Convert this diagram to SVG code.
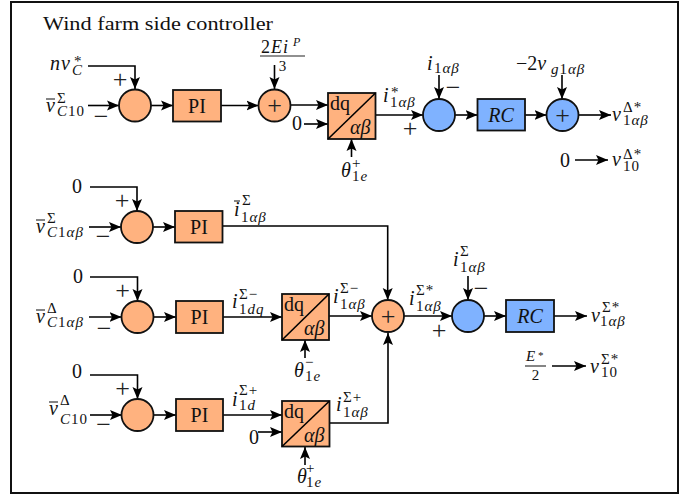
<svg xmlns="http://www.w3.org/2000/svg" width="694" height="495" viewBox="0 0 694 495">
<style>
text{font-family:"Liberation Serif","Times New Roman",serif;fill:#111;font-size:20px}
.i{font-style:italic}
.n{font-style:normal}
.s{font-size:15px;letter-spacing:1px}
.si{font-size:15px;font-style:italic;letter-spacing:1px}
.c{text-anchor:middle}
.sg{font-size:26px;text-anchor:middle;fill:#222}
.o{fill:#ffb27f;stroke:#111;stroke-width:1.8}
.b{fill:#7fb2ff;stroke:#111;stroke-width:1.8}
.a{fill:none;stroke:#000;stroke-width:1.6;marker-end:url(#ah)}
.d{stroke:#000;stroke-width:1.6}
.bar{stroke:#222;stroke-width:1.1}
</style>
<defs>
<marker id="ah" markerUnits="userSpaceOnUse" markerWidth="14" markerHeight="12" refX="12" refY="6" orient="auto">
<path d="M0 1 L12 6 L0 11 L2.500 6 Z" fill="#000"/>
</marker>
</defs>
<rect x="11" y="2" width="667" height="491" fill="#fff" stroke="#111" stroke-width="2"/>
<text x="43" y="30" textLength="230" lengthAdjust="spacingAndGlyphs" style="font-size:19px">Wind farm side controller</text>
<g id="connectors">
<path class="a" d="M88 66H135V89"/>
<path class="a" d="M88 105.500H119"/>
<path class="a" d="M151 105.500H173"/>
<path class="a" d="M221 105.500H258.500"/>
<path class="a" d="M291 105H328"/>
<path class="a" d="M304 124H328"/>
<path class="a" d="M274.500 65V89"/>
<path class="a" d="M351.500 157V139"/>
<path class="a" d="M375.500 115H423"/>
<path class="a" d="M439 75V99"/>
<path class="a" d="M455 115H477.500"/>
<path class="a" d="M525 115H546.500"/>
<path class="a" d="M562 75V99"/>
<path class="a" d="M579 115H611"/>
<path class="a" d="M575 160H608"/>
<path class="a" d="M90 187H137V211"/>
<path class="a" d="M89 227H121"/>
<path class="a" d="M153 227H175"/>
<path class="a" d="M222.500 226H387.700V300"/>
<path class="a" d="M90 277H137.500V301"/>
<path class="a" d="M89 317H121.500"/>
<path class="a" d="M154 317H176"/>
<path class="a" d="M223 317H282"/>
<path class="a" d="M329 316H372"/>
<path class="a" d="M305 358V340"/>
<path class="a" d="M404 316H452"/>
<path class="a" d="M468 276V300"/>
<path class="a" d="M484 316H506"/>
<path class="a" d="M554 316H587"/>
<path class="a" d="M552 366H586"/>
<path class="a" d="M90 375H137.500V399"/>
<path class="a" d="M90 415H122"/>
<path class="a" d="M154 415H176"/>
<path class="a" d="M223 415H282"/>
<path class="a" d="M258 432H282"/>
<path class="a" d="M329.500 423H388V333"/>
<path class="a" d="M305 465V447"/>
</g>
<g id="sum1"><circle class="o" cx="135" cy="105.500" r="16"/></g>
<g id="pi1"><rect class="o" x="173" y="90" width="48" height="31.500"/><text class="c" x="197" y="112.500">PI</text></g>
<g id="add1"><circle class="o" cx="274.500" cy="105.500" r="16"/><text class="sg" x="274.500" y="114">+</text></g>
<g id="dq1"><rect class="o" x="328" y="93" width="47.500" height="46"/><path class="d" d="M328 139L375.500 93"/><text x="330" y="110">dq</text><text class="i" x="350" y="134">αβ</text></g>
<g id="sum2"><circle class="b" cx="439" cy="115" r="16"/></g>
<g id="rc1"><rect class="b" x="477.500" y="99" width="47.500" height="31.500"/><text class="c i" x="501" y="122">RC</text></g>
<g id="add2"><circle class="b" cx="562.500" cy="115" r="16"/><text class="sg" x="562.500" y="123.500">+</text></g>
<g id="sum3"><circle class="o" cx="137" cy="227" r="16"/></g>
<g id="pi2"><rect class="o" x="175" y="211" width="47.500" height="31.500"/><text class="c" x="199" y="233.500">PI</text></g>
<g id="sum4"><circle class="o" cx="137.500" cy="317" r="16"/></g>
<g id="pi3"><rect class="o" x="176" y="301" width="47" height="32"/><text class="c" x="199.500" y="323.500">PI</text></g>
<g id="dq2"><rect class="o" x="282" y="294" width="47" height="46"/><path class="d" d="M282 340L329 294"/><text x="284" y="311">dq</text><text class="i" x="304" y="335">αβ</text></g>
<g id="add3"><circle class="o" cx="388" cy="316" r="16"/><text class="sg" x="388" y="324.500">+</text></g>
<g id="sum5"><circle class="b" cx="468" cy="316" r="16"/></g>
<g id="rc2"><rect class="b" x="506" y="300" width="48" height="32"/><text class="c i" x="530" y="323">RC</text></g>
<g id="sum6"><circle class="o" cx="137.500" cy="415" r="16"/></g>
<g id="pi4"><rect class="o" x="176" y="399" width="47" height="32"/><text class="c" x="199.500" y="421.500">PI</text></g>
<g id="dq3"><rect class="o" x="282" y="401" width="47.500" height="45.500"/><path class="d" d="M282 446.500L329.500 401"/><text x="284" y="418">dq</text><text class="i" x="304" y="442">αβ</text></g>
<g id="signs">
<text class="sg" x="120" y="88">+</text><text class="sg" x="101" y="125">−</text>
<text class="sg" x="410" y="136.500">+</text><text class="sg" x="453" y="95.500">−</text>
<text class="sg" x="122" y="208.500">+</text><text class="sg" x="103" y="245">−</text>
<text class="sg" x="122.500" y="298.500">+</text><text class="sg" x="104" y="337">−</text>
<text class="sg" x="122.500" y="396.500">+</text><text class="sg" x="103.500" y="433">−</text>
<text class="sg" x="439" y="338.500">+</text><text class="sg" x="481" y="297">−</text>
</g>
<g id="labels">
<text class="i" x="50" y="70" style="letter-spacing:1px">nv</text><text class="s" x="74" y="66">*</text><text class="si" x="72" y="75">C</text>
<line class="bar" x1="46" y1="99" x2="55" y2="99"/><text class="i" x="46" y="112">v</text><text class="s" x="57" y="103">Σ</text><text class="si" x="57" y="116">C<tspan class="n">10</tspan></text>
<text x="261" y="53" style="font-size:18px;letter-spacing:1px">2<tspan class="i">Ei</tspan></text><text class="si" x="293" y="46" style="font-size:12px">P</text>
<line class="bar" x1="260" y1="56" x2="305" y2="56"/><text x="282.500" y="71" class="c" style="font-size:15px">3</text>
<text x="292" y="130">0</text>
<text class="i" x="341" y="177">θ</text><text class="s" x="352" y="168">+</text><text class="si" x="352" y="181"><tspan class="n">1</tspan>e</text>
<text class="i" x="383" y="102">i</text><text class="s" x="391" y="97">*</text><text class="s" x="390" y="107">1<tspan class="i">αβ</tspan></text>
<text class="i" x="427" y="70">i</text><text class="s" x="434" y="73">1<tspan class="i">αβ</tspan></text>
<text x="516" y="70">−2<tspan class="i">v</tspan></text><text class="si" x="551" y="74">g<tspan class="n">1</tspan>αβ</text>
<text class="i" x="612" y="121">v</text><text class="s" x="623" y="112">Δ*</text><text class="s" x="623" y="125">1<tspan class="i">αβ</tspan></text>
<text x="560" y="167">0</text>
<text class="i" x="612" y="166">v</text><text class="s" x="623" y="159">Δ*</text><text class="s" x="623" y="171">10</text>
<text x="72" y="193">0</text>
<line class="bar" x1="36" y1="220" x2="45" y2="220"/><text class="i" x="36" y="233">v</text><text class="s" x="47" y="223">Σ</text><text class="si" x="47" y="237">C<tspan class="n">1</tspan>αβ</text>
<line class="bar" x1="234" y1="201" x2="240" y2="201"/><text class="i" x="234" y="216">i</text><text class="s" x="242" y="205">Σ</text><text class="s" x="241" y="222">1<tspan class="i">αβ</tspan></text>
<text x="73" y="283">0</text>
<line class="bar" x1="36" y1="310" x2="45" y2="310"/><text class="i" x="36" y="323">v</text><text class="s" x="47" y="313">Δ</text><text class="si" x="47" y="327">C<tspan class="n">1</tspan>αβ</text>
<text class="i" x="232" y="308">i</text><text class="s" x="239" y="299">Σ−</text><text class="si" x="239" y="314"><tspan class="n">1</tspan>dq</text>
<text class="i" x="333" y="303">i</text><text class="s" x="340" y="293">Σ−</text><text class="s" x="340" y="309">1<tspan class="i">αβ</tspan></text>
<text class="i" x="294" y="377">θ</text><text class="s" x="305" y="367">−</text><text class="si" x="305" y="381"><tspan class="n">1</tspan>e</text>
<text class="i" x="409" y="305">i</text><text class="s" x="416" y="295">Σ*</text><text class="s" x="416" y="311">1<tspan class="i">αβ</tspan></text>
<text class="i" x="453" y="266">i</text><text class="s" x="460" y="256">Σ</text><text class="s" x="460" y="272">1<tspan class="i">αβ</tspan></text>
<text class="i" x="591" y="322">v</text><text class="s" x="602" y="312">Σ*</text><text class="s" x="600" y="326">1<tspan class="i">αβ</tspan></text>
<text class="i" x="526" y="361" style="font-size:15px">E</text><text x="538" y="359" style="font-size:11px">*</text>
<line class="bar" x1="525" y1="366" x2="546" y2="366"/><text class="c" x="535.500" y="380" style="font-size:15px">2</text>
<text class="i" x="590" y="373">v</text><text class="s" x="601" y="364">Σ*</text><text class="s" x="601" y="377">10</text>
<text x="72" y="378">0</text>
<line class="bar" x1="49" y1="402" x2="58" y2="402"/><text class="i" x="49" y="415">v</text><text class="s" x="60" y="405">Δ</text><text class="si" x="60" y="424">C<tspan class="n">10</tspan></text>
<text class="i" x="232" y="406">i</text><text class="s" x="239" y="395">Σ+</text><text class="si" x="239" y="410"><tspan class="n">1</tspan>d</text>
<text x="249" y="444">0</text>
<text class="i" x="336" y="411">i</text><text class="s" x="343" y="402">Σ+</text><text class="s" x="343" y="417">1<tspan class="i">αβ</tspan></text>
<text class="i" x="297" y="483">θ</text><text class="s" x="306" y="473">+</text><text class="si" x="306" y="487"><tspan class="n">1</tspan>e</text>
</g>
</svg>
